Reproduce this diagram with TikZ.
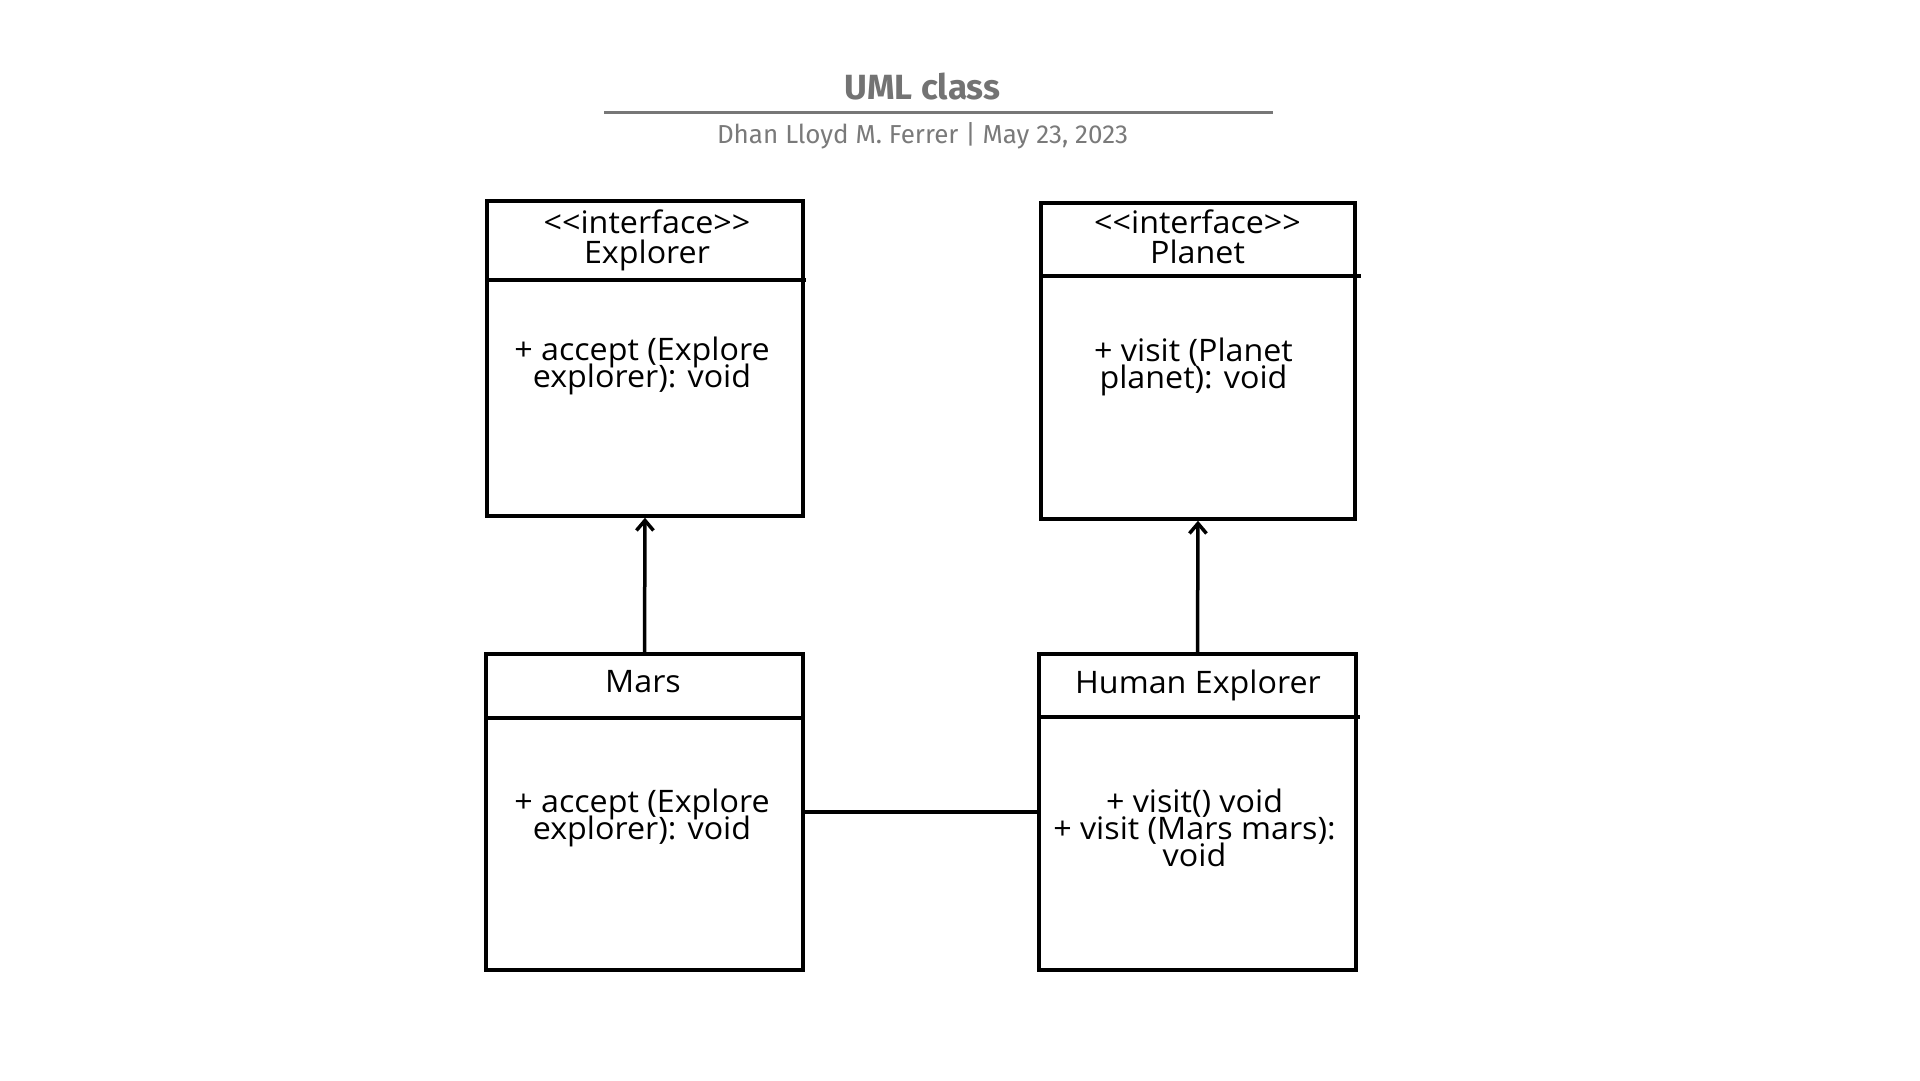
\documentclass[tikz,border=0pt]{standalone}
\usepackage{fontspec}
\setmainfont{Open Sans}[FakeStretch=1.04]
\newfontfamily\titlefont{Fira Sans}
\usetikzlibrary{arrows.meta}
\definecolor{titlegray}{HTML}{737373}
\definecolor{subgray}{HTML}{7A7A7A}
\definecolor{rulegray}{HTML}{777777}
\newcommand\tightlinesumld{\lineskiplimit=-100pt\relax\lineskip=0pt\relax}
\begin{document}
\begin{tikzpicture}[x=1pt,y=-1pt,
  classbox/.style={draw=black, line width=3.5pt, inner sep=0pt},
  divider/.style={draw=black, line width=3.5pt},
  umltext/.style={font=\fontsize{31}{27}\selectfont\tightlinesumld, inner sep=0pt, anchor=base, text=black, align=center},
  headtext/.style={font=\fontsize{31}{30}\selectfont\tightlinesumld, inner sep=0pt, anchor=base, text=black, align=center},
  conn/.style={draw=black, line width=3.5pt},
  inherit/.style={conn, -{Straight Barb[length=10pt,width=17pt,line width=3.5pt]}},
  titletext/.style={font=\titlefont\bfseries\fontsize{35}{35}\selectfont, text=titlegray, inner sep=0pt, anchor=base},
  subtext/.style={font=\titlefont\fontsize{26}{26}\selectfont, text=subgray, inner sep=0pt, anchor=base}]
\useasboundingbox (0,0) rectangle (1920,1080);
\fill[white] (0,0) rectangle (1920,1080);

% title block
\node[titletext] (title) at (922.5,99) {UML class};
\coordinate (rulestart) at (604,112.5);
\coordinate (ruleend) at (1273,112.5);
\draw[line width=3.5pt, draw=rulegray] (rulestart) -- (ruleend);
\node[subtext] (subtitle) at (922.5,143) {Dhan Lloyd M. Ferrer | May 23, 2023};

% boxes
\node[classbox, minimum width=316pt, minimum height=315pt] (explorer) at (645,358.5) {};
\node[classbox, minimum width=314pt, minimum height=316pt] (planet) at (1198,361) {};
\node[classbox, minimum width=317pt, minimum height=316pt] (mars) at (644.5,812) {};
\node[classbox, minimum width=317pt, minimum height=316pt] (human) at (1197.5,812) {};

% dividers
\draw[divider] (487,280) -- (806,280);
\draw[divider] (1041,276) -- (1361,276);
\draw[divider] (484,718) -- (805,718);
\draw[divider] (1039,717) -- (1360,717);

% Explorer texts (anchor = baseline of last line)
\node[headtext] (explorerhead) at (647,263) {<{}<interface>{}>\\Explorer};
\node[umltext] (explorerops) at (642,387) {+ accept (Explore\\explorer): void};

% Planet texts
\node[headtext] (planethead) at (1197.5,263) {<{}<interface>{}>\\Planet};
\node[umltext] (planetops) at (1193.5,388) {+ visit (Planet\\planet): void};

% Mars texts
\node[umltext] (marsname) at (643,692) {Mars};
\node[umltext] (marsops) at (642,839) {+ accept (Explore\\explorer): void};

% Human Explorer texts
\node[umltext] (humanname) at (1198,693) {Human Explorer};
\node[umltext] (humanops) at (1194.5,866) {+ visit() void\\+ visit (Mars mars):\\void};

% connectors
\draw[inherit] (mars.north) -- (explorer.south);
\draw[inherit] (human.north) -- (planet.south);
\draw[conn] (mars.east) -- (human.west);
\end{tikzpicture}
\end{document}
